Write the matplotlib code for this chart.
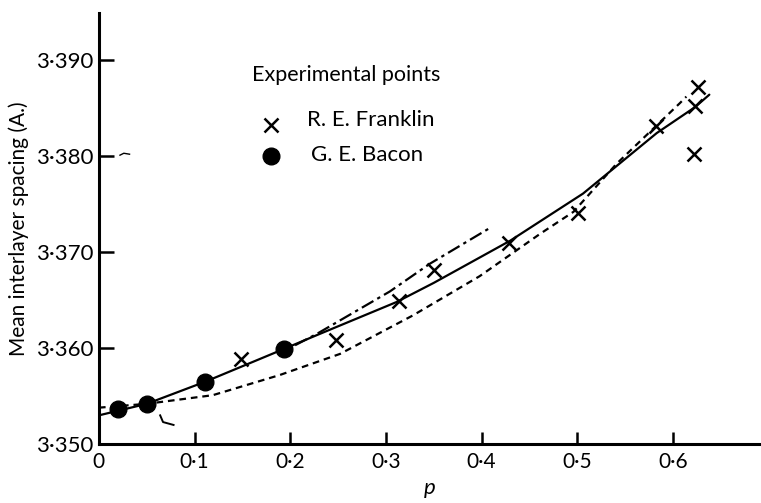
import matplotlib
matplotlib.use('Agg')
import matplotlib.pyplot as plt
from matplotlib.ticker import FixedLocator, FuncFormatter

plt.rcParams['font.family'] = ['Lato', 'DejaVu Sans']

# Experimental points
franklin_p = [0.149, 0.248, 0.314, 0.350, 0.429, 0.501, 0.582, 0.626, 0.623, 0.622]
franklin_d = [3.3589, 3.3609, 3.3649, 3.3681, 3.3709, 3.3741, 3.3831, 3.3872, 3.3852, 3.3802]
bacon_p = [0.020, 0.050, 0.111, 0.193]
bacon_d = [3.3537, 3.3542, 3.3565, 3.3599]

# Curves
solid_p = [0.0, 0.050, 0.111, 0.193, 0.224, 0.311, 0.350, 0.430, 0.506, 0.583, 0.623, 0.638]
solid_d = [3.3530, 3.3542, 3.3565, 3.3599, 3.3612, 3.3648, 3.3668, 3.3712, 3.3761, 3.3824, 3.3851, 3.3864]
dashed_p = [0.0, 0.050, 0.119, 0.189, 0.252, 0.328, 0.398, 0.461, 0.496, 0.541, 0.607, 0.614]
dashed_d = [3.3538, 3.3542, 3.3551, 3.3572, 3.3594, 3.3634, 3.3675, 3.3719, 3.3742, 3.3792, 3.3855, 3.3862]
dashdot_p = [0.205, 0.228, 0.304, 0.346, 0.410]
dashdot_d = [3.3603, 3.3615, 3.3659, 3.3688, 3.3726]
arc_p = [0.064, 0.067, 0.078]
arc_d = [3.3530, 3.3523, 3.3520]
tilde_p = [0.022, 0.026, 0.032]
tilde_d = [3.3801, 3.3803, 3.3802]

xticks = [0, 0.1, 0.2, 0.3, 0.4, 0.5, 0.6]
yticks = [3.350, 3.360, 3.370, 3.380, 3.390]

fig = plt.figure(figsize=(7.61, 5.03), dpi=100)
ax = fig.add_axes([0.130, 0.117, 0.870, 0.857])

ax.plot(solid_p, solid_d, color='black', lw=1.6, solid_capstyle='round')
ax.plot(dashed_p, dashed_d, color='black', lw=1.6, dashes=(3, 2.2))
ax.plot(dashdot_p, dashdot_d, color='black', lw=1.6, dashes=(6, 2, 1.5, 2))
ax.plot(arc_p, arc_d, color='black', lw=1.4)
ax.plot(tilde_p, tilde_d, color='black', lw=1.0)

ax.plot(franklin_p, franklin_d, 'x', color='black', ms=10, mew=1.8)
ax.plot(bacon_p, bacon_d, 'o', color='black', ms=12)

# legend drawn as text + markers
ax.text(0.258, 3.3884, 'Experimental points', fontsize=15.5, ha='center', va='center')
ax.plot([0.180], [3.3832], 'x', color='black', ms=10, mew=1.8)
ax.text(0.217, 3.3838, 'R. E. Franklin', fontsize=16, ha='left', va='center')
ax.plot([0.180], [3.3800], 'o', color='black', ms=12)
ax.text(0.222, 3.3801, 'G. E. Bacon', fontsize=16, ha='left', va='center')

ax.set_xlim(0, 0.692)
ax.set_ylim(3.350, 3.3949)
ax.xaxis.set_major_locator(FixedLocator(xticks))
ax.yaxis.set_major_locator(FixedLocator(yticks))
ax.xaxis.set_major_formatter(FuncFormatter(lambda v, pos: '0' if v == 0 else ('%.1f' % v).replace('.', '\u00b7')))
ax.yaxis.set_major_formatter(FuncFormatter(lambda v, pos: ('%.3f' % v).replace('.', '\u00b7')))

for s in ['top', 'right']:
    ax.spines[s].set_visible(False)
for s in ['left', 'bottom']:
    ax.spines[s].set_linewidth(2.2)
ax.tick_params(axis='both', direction='in', width=1.8)
ax.tick_params(axis='y', length=11, pad=4, labelsize=16)
ax.tick_params(axis='x', length=9, pad=6, labelsize=15)

ax.set_xlabel('p', fontsize=16, style='italic', labelpad=4)
ax.set_ylabel('Mean interlayer spacing (A.)', fontsize=15, labelpad=5)

fig.savefig('out.png', dpi=100)
